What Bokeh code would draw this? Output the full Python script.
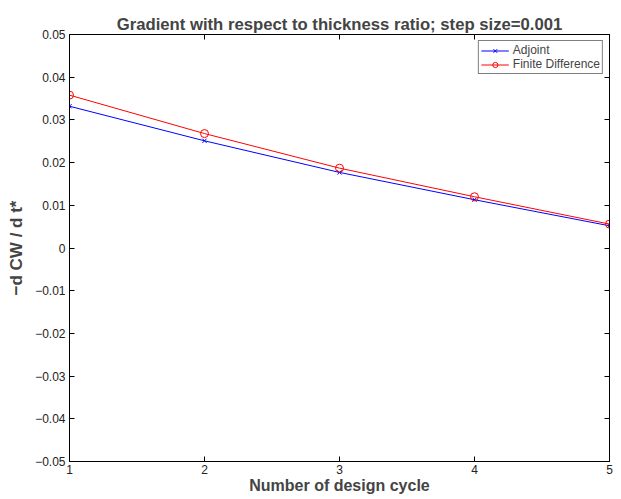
from bokeh.plotting import figure
from bokeh.models import Range1d, FixedTicker, LinearAxis, Legend, LegendItem
from bokeh.embed import file_html
from bokeh.resources import INLINE

cycles = [1, 2, 3, 4, 5]
adjoint = [0.0332, 0.0251, 0.0177, 0.0113, 0.0052]
finite_diff = [0.0358, 0.0268, 0.0187, 0.0120, 0.0056]
y_ticks = [-0.05, -0.04, -0.03, -0.02, -0.01, 0.0, 0.01, 0.02, 0.03, 0.04, 0.05]
y_tick_labels = ["\u22120.05", "\u22120.04", "\u22120.03", "\u22120.02", "\u22120.01", "0",
                 "0.01", "0.02", "0.03", "0.04", "0.05"]
x_ticks = [1, 2, 3, 4, 5]

FONT = "Liberation Sans"

p = figure(width=621, height=499, output_backend="svg", toolbar_location=None,
           x_range=Range1d(1, 5), y_range=Range1d(-0.05, 0.05),
           min_border_left=69, min_border_right=12, min_border_top=34, min_border_bottom=38,
           x_axis_location=None, y_axis_location=None)
p.background_fill_color = "white"
p.border_fill_color = "white"
p.outline_line_color = "black"
p.outline_line_width = 1
p.xgrid.visible = False
p.ygrid.visible = False

p.title.text = "Gradient with respect to thickness ratio; step size=0.001"
p.title.align = "center"
p.title.text_font = FONT
p.title.text_font_size = "16.7px"
p.title.text_font_style = "bold"
p.title.standoff = 2

def style_axis(ax):
    ax.axis_line_color = "black"
    ax.major_tick_in = 5
    ax.major_tick_out = 0
    ax.minor_tick_line_color = None
    ax.major_label_text_font = FONT
    ax.major_label_text_font_size = "12px"
    ax.major_label_text_color = "#222222"
    ax.axis_label_text_font = FONT
    ax.axis_label_text_font_style = "bold"
    ax.axis_label_text_font_size = "16px"

xb = LinearAxis(ticker=FixedTicker(ticks=x_ticks))
style_axis(xb)
xb.axis_label = "Number of design cycle"
xb.major_label_standoff = 3
xb.axis_label_standoff = 0
p.add_layout(xb, "below")

yl = LinearAxis(ticker=FixedTicker(ticks=y_ticks))
style_axis(yl)
yl.major_label_overrides = {t: l for t, l in zip(y_ticks, y_tick_labels)}
yl.axis_label = "\u2212d CW / d t*"
yl.axis_label_text_font_size = "17px"
yl.major_label_standoff = 4
yl.axis_label_standoff = 6
p.add_layout(yl, "left")

xt = LinearAxis(ticker=FixedTicker(ticks=x_ticks))
style_axis(xt)
xt.major_label_overrides = {t: "" for t in x_ticks}
xt.major_label_standoff = 0
p.add_layout(xt, "above")

yr = LinearAxis(ticker=FixedTicker(ticks=y_ticks))
style_axis(yr)
yr.major_label_overrides = {t: "" for t in y_ticks}
yr.major_label_standoff = 0
p.add_layout(yr, "right")

l1 = p.line(cycles, adjoint, line_color="blue", line_width=1)
s1 = p.scatter(cycles, adjoint, marker="x", size=6, line_color="blue", line_width=1)
l2 = p.line(cycles, finite_diff, line_color="red", line_width=1)
s2 = p.scatter(cycles, finite_diff, marker="circle", size=8, line_color="red",
               fill_color=None, line_width=1)

legend = Legend(items=[LegendItem(label="Adjoint", renderers=[l1, s1]),
                       LegendItem(label="Finite Difference", renderers=[l2, s2])],
                location="top_right")
legend.label_text_font = FONT
legend.label_text_font_size = "12px"
legend.label_height = 13
legend.glyph_height = 13
legend.glyph_width = 28
legend.spacing = 0
legend.padding = 2
legend.margin = 6
legend.label_standoff = 4
legend.border_line_color = "black"
legend.border_line_width = 1
legend.background_fill_alpha = 1
p.add_layout(legend, "center")

open("out.html", "w").write(file_html(p, INLINE))
